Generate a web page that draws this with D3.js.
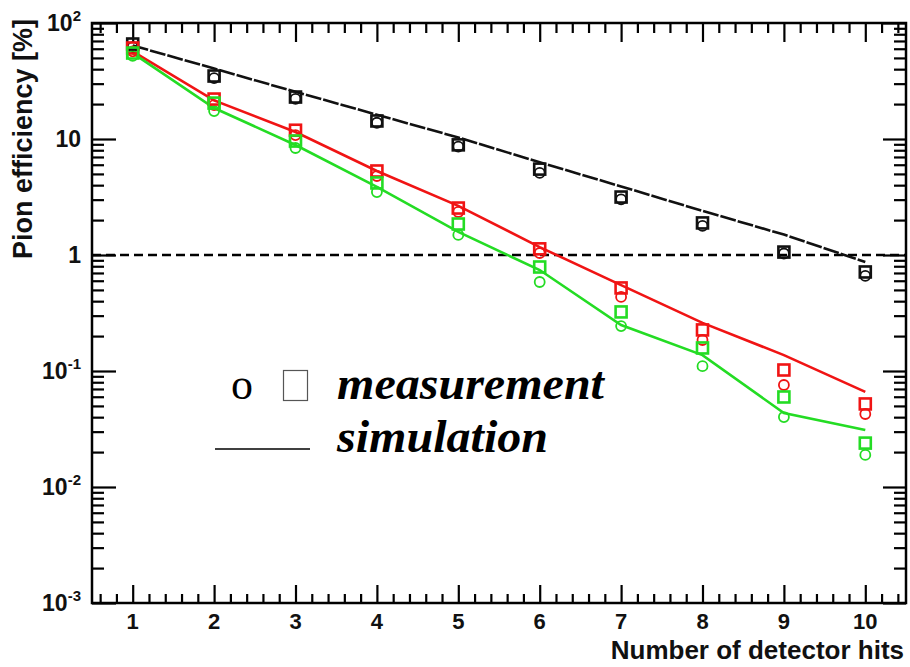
<!DOCTYPE html>
<html>
<head>
<meta charset="utf-8">
<script src="https://cdn.jsdelivr.net/npm/d3@7"></script>
<style>
  html, body { margin: 0; padding: 0; background: #fff; }
  svg { display: block; }
</style>
</head>
<body>
<svg id="chart" width="910" height="667"></svg>
<script>
// Number of detector hits
const hits = [1, 2, 3, 4, 5, 6, 7, 8, 9, 10];

// Pion efficiency [%], measured (squares and circles) and simulated (lines)
const blackSquares = [65.9, 34.9, 23.0, 14.3, 8.9, 5.5, 3.16, 1.89, 1.06, 0.714];
const blackCircles = [62, 33.5, 22.2, 13.8, 8.6, 5.1, 3.02, 1.78, 1.03, 0.66];
const blackSim     = [64, 40.5, 25.5, 16.2, 10.3, 6.3, 3.9, 2.4, 1.5, 0.87];

const redSquares = [60.9, 22.1, 11.9, 5.3, 2.54, 1.13, 0.52, 0.226, 0.102, 0.052];
const redCircles = [57, 19.6, 10.8, 4.8, 2.35, 1.04, 0.435, 0.185, 0.0757, 0.0426];
const redSim     = [57, 21.5, 11.5, 5.3, 2.65, 1.17, 0.55, 0.26, 0.137, 0.066];

const greenSquares = [55.1, 20.4, 9.6, 4.18, 1.85, 0.788, 0.323, 0.158, 0.0597, 0.0239];
const greenCircles = [52, 17.4, 8.36, 3.49, 1.49, 0.585, 0.244, 0.110, 0.0401, 0.0189];
const greenSim     = [55, 18.5, 8.88, 3.86, 1.58, 0.742, 0.249, 0.137, 0.0434, 0.031];

// Axis tick labels
const xTickLabels = ["1", "2", "3", "4", "5", "6", "7", "8", "9", "10"];
const yTickValues = [1e2, 1e1, 1, 1e-1, 1e-2, 1e-3];
const yTickBase = ["10", "10", "1", "10", "10", "10"];
const yTickExp  = ["2", "", "", "-1", "-2", "-3"];

const xTitle = "Number of detector hits";
const yTitle = "Pion efficiency [%]";
const legendMeasurement = "measurement";
const legendSimulation = "simulation";

const series = [
  { color: "#111111", squares: blackSquares, circles: blackCircles, sim: blackSim, dash: "16,2" },
  { color: "#f01414", squares: redSquares, circles: redCircles, sim: redSim, dash: null },
  { color: "#24dc24", squares: greenSquares, circles: greenCircles, sim: greenSim, dash: null }
];

const svg = d3.select("#chart");
const plotLeft = 92, plotRight = 906, plotTop = 23, plotBottom = 603;

const x = d3.scaleLinear().domain([0.5, 10.5]).range([plotLeft, plotRight]);
const y = d3.scaleLog().domain([1e-3, 1e2]).range([plotBottom, plotTop]);

const axisFont = "'Liberation Sans', Arial, sans-serif";

// Ticks on all four sides, pointing into the frame
const xMajor = d3.range(1, 11);
const xMinor = d3.range(6, 106, 2).map(v => v / 10).filter(v => Math.abs(v - Math.round(v)) > 1e-6 && v < 10.5);
const yMajor = yTickValues;
const yMinor = [];
for (let e = -3; e < 2; e++) for (let m = 2; m <= 9; m++) yMinor.push(m * Math.pow(10, e));

function drawAxis(axis, transform) {
  const g = svg.append("g").attr("transform", transform).call(axis);
  g.select(".domain").remove();
  g.selectAll("line").attr("stroke", "#000").attr("stroke-width", 2.2);
  g.selectAll("text").remove();
}

drawAxis(d3.axisBottom(x).tickValues(xMajor).tickSize(-18), `translate(0,${plotBottom})`);
drawAxis(d3.axisBottom(x).tickValues(xMinor).tickSize(-9), `translate(0,${plotBottom})`);
drawAxis(d3.axisTop(x).tickValues(xMajor).tickSize(-19), `translate(0,${plotTop})`);
drawAxis(d3.axisTop(x).tickValues(xMinor).tickSize(-10), `translate(0,${plotTop})`);
drawAxis(d3.axisLeft(y).tickValues(yMajor).tickSize(-24), `translate(${plotLeft},0)`);
drawAxis(d3.axisLeft(y).tickValues(yMinor).tickSize(-12), `translate(${plotLeft},0)`);
drawAxis(d3.axisRight(y).tickValues(yMajor).tickSize(-23), `translate(${plotRight},0)`);
drawAxis(d3.axisRight(y).tickValues(yMinor).tickSize(-12), `translate(${plotRight},0)`);

// Reference line at 1 %
svg.append("line")
  .attr("x1", plotLeft).attr("x2", plotRight)
  .attr("y1", y(1)).attr("y2", y(1))
  .attr("stroke", "#000").attr("stroke-width", 2.5)
  .attr("stroke-dasharray", "9,5");

// Simulation curves
const line = d3.line().x((d, i) => x(hits[i])).y(d => y(d));
series.forEach(s => {
  svg.append("path")
    .datum(s.sim)
    .attr("d", line)
    .attr("fill", "none")
    .attr("stroke", s.color)
    .attr("stroke-width", 2.6)
    .attr("stroke-dasharray", s.dash);
});

// Measured points: circles, then squares
series.forEach(s => {
  svg.append("g").selectAll("circle")
    .data(s.circles)
    .join("circle")
    .attr("cx", (d, i) => x(hits[i]))
    .attr("cy", d => y(d))
    .attr("r", 5)
    .attr("fill", "none")
    .attr("stroke", s.color)
    .attr("stroke-width", 1.8);
});
series.forEach(s => {
  svg.append("g").selectAll("rect")
    .data(s.squares)
    .join("rect")
    .attr("x", (d, i) => x(hits[i]) - 5.5)
    .attr("y", d => y(d) - 5.5)
    .attr("width", 11)
    .attr("height", 11)
    .attr("fill", "none")
    .attr("stroke", s.color)
    .attr("stroke-width", 2.6);
});

// Frame
svg.append("rect")
  .attr("x", plotLeft).attr("y", plotTop)
  .attr("width", plotRight - plotLeft).attr("height", plotBottom - plotTop)
  .attr("fill", "none").attr("stroke", "#000").attr("stroke-width", 2.5);

// X tick labels
svg.append("g").selectAll("text")
  .data(xTickLabels)
  .join("text")
  .attr("x", (d, i) => x(hits[i]))
  .attr("y", 629)
  .attr("text-anchor", "middle")
  .attr("font-family", axisFont)
  .attr("font-weight", "bold")
  .attr("font-size", 22)
  .attr("fill", "#111")
  .text(d => d);

// Y tick labels with exponents
yTickValues.forEach((v, i) => {
  const t = svg.append("text")
    .attr("x", 81)
    .attr("y", y(v) + 8)
    .attr("text-anchor", "end")
    .attr("font-family", axisFont)
    .attr("font-weight", "bold")
    .attr("font-size", 23)
    .attr("fill", "#111");
  t.append("tspan").text(yTickBase[i]);
  if (yTickExp[i]) {
    t.append("tspan")
      .attr("font-size", 15)
      .attr("dy", -10)
      .text(yTickExp[i]);
  }
});

// Axis titles
svg.append("text")
  .attr("x", 904).attr("y", 659)
  .attr("text-anchor", "end")
  .attr("font-family", axisFont)
  .attr("font-weight", "bold")
  .attr("font-size", 26)
  .attr("fill", "#111")
  .text(xTitle);

svg.append("text")
  .attr("transform", "translate(32,19) rotate(-90)")
  .attr("text-anchor", "end")
  .attr("font-family", axisFont)
  .attr("font-weight", "bold")
  .attr("font-size", 27)
  .attr("fill", "#111")
  .text(yTitle);

// Legend
const serif = "'Liberation Serif', 'Times New Roman', serif";
svg.append("text")
  .attr("x", 231).attr("y", 399)
  .attr("font-family", serif)
  .attr("font-size", 44)
  .attr("fill", "#000")
  .text("o");
svg.append("rect")
  .attr("x", 283.5).attr("y", 370.5)
  .attr("width", 24).attr("height", 30)
  .attr("fill", "none").attr("stroke", "#555").attr("stroke-width", 1.2);
svg.append("text")
  .attr("transform", "translate(337,399) scale(1.045,1)")
  .attr("font-family", serif)
  .attr("font-style", "italic")
  .attr("font-weight", "bold")
  .attr("font-size", 46)
  .attr("fill", "#000")
  .text(legendMeasurement);
svg.append("line")
  .attr("x1", 215).attr("x2", 310)
  .attr("y1", 449).attr("y2", 449)
  .attr("stroke", "#000").attr("stroke-width", 1.6);
svg.append("text")
  .attr("transform", "translate(337,452) scale(1.045,1)")
  .attr("font-family", serif)
  .attr("font-style", "italic")
  .attr("font-weight", "bold")
  .attr("font-size", 46)
  .attr("fill", "#000")
  .text(legendSimulation);
</script>
</body>
</html>
